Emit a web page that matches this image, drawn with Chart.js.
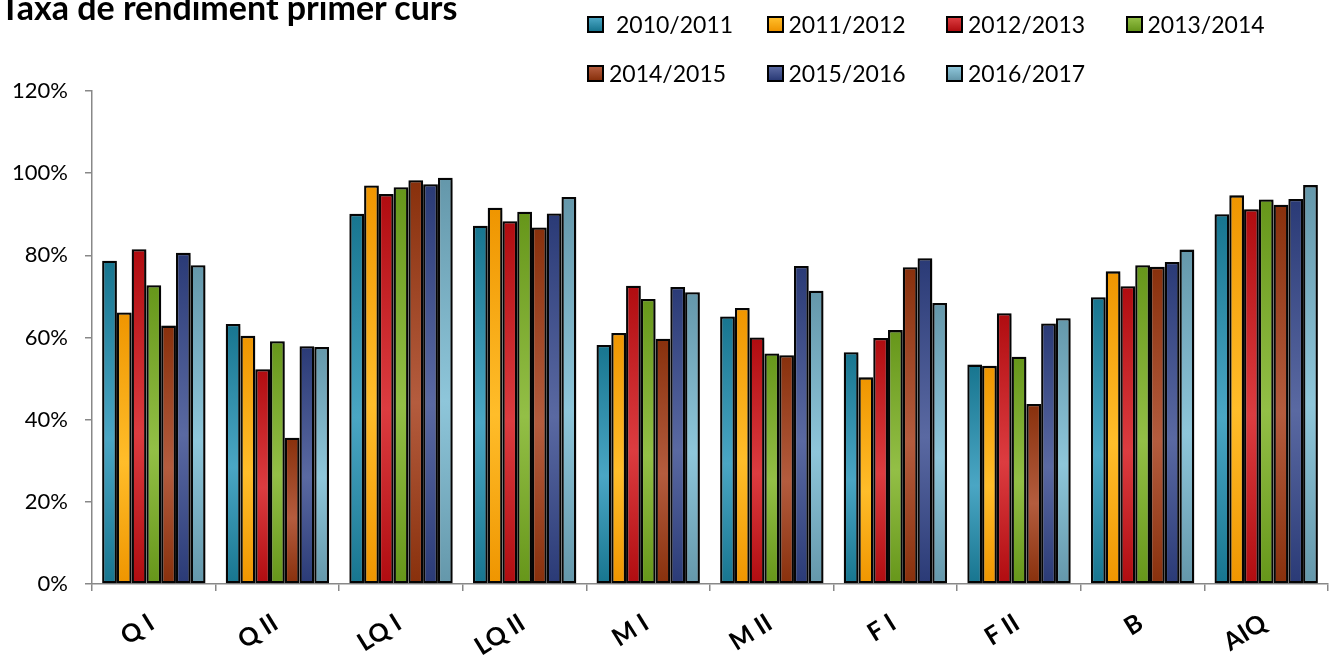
<!DOCTYPE html>
<html lang="ca">
<head>
<meta charset="UTF-8">
<title>Taxa de rendiment primer curs</title>
<script src="https://cdn.jsdelivr.net/npm/chart.js"></script>
<style>
  body { margin: 0; background: #fff; overflow: hidden; }
  #wrap { position: relative; width: 1329px; height: 655px; }
  #title { position: absolute; left: 0; top: -14px; font: bold 34px Lato, sans-serif; line-height: 41px; color: #000; white-space: nowrap; }
  .leg { position: absolute; display: flex; align-items: center; font: 23px Lato, sans-serif; color: #000; white-space: nowrap; }
  .leg span.box { width: 13px; height: 13px; border: 2px solid #000; display: inline-block; }
</style>
</head>
<body>
<div id="wrap">
  <canvas id="chart" width="1329" height="655"></canvas>
  <div id="title">Taxa de rendiment primer curs</div>
  <div id="legend"></div>
</div>

<script>
// categories (titulacions) and academic years
const categories = ['Q I', 'Q II', 'LQ I', 'LQ II', 'M I', 'M II', 'F I', 'F II', 'B', 'AIQ'];
const years = ['2010/2011', '2011/2012', '2012/2013', '2013/2014', '2014/2015', '2015/2016', '2016/2017'];

// rendiment (%) per year, one value per category
const y2010 = [78.7, 63.3, 90.1, 87.2, 58.2, 65.1, 56.4, 53.4, 69.8, 90.0];
const y2011 = [66.1, 60.4, 97.0, 91.6, 61.1, 67.2, 50.3, 53.1, 76.1, 94.6];
const y2012 = [81.5, 52.3, 94.9, 88.3, 72.6, 60.0, 59.9, 65.9, 72.5, 91.2];
const y2013 = [72.7, 59.1, 96.6, 90.6, 69.4, 56.1, 61.8, 55.3, 77.6, 93.6];
const y2014 = [62.9, 35.6, 98.3, 86.8, 59.7, 55.7, 77.1, 43.8, 77.2, 92.3];
const y2015 = [80.6, 57.9, 97.3, 90.2, 72.3, 77.4, 79.3, 63.4, 78.4, 93.7];
const y2016 = [77.6, 57.7, 98.9, 94.2, 71.0, 71.4, 68.4, 64.7, 81.4, 97.1];

const yTicks = [0, 20, 40, 60, 80, 100, 120];

// [dark, light] per series
const colors = [
  ['#17758f', '#4aa6c4'],
  ['#ef9500', '#ffbd2a'],
  ['#b00c10', '#dc3c40'],
  ['#66961a', '#93bf46'],
  ['#88300c', '#b45c3e'],
  ['#2a3a76', '#5a69a2'],
  ['#6497aa', '#8ec6da']
];

const values = [y2010, y2011, y2012, y2013, y2014, y2015, y2016];

function barFill(i) {
  return function (ctx) {
    const chart = ctx.chart;
    if (!chart.chartArea || ctx.raw == null) return colors[i][1];
    const ys = chart.scales.y;
    const top = ys.getPixelForValue(ctx.raw);
    const bot = ys.getPixelForValue(0);
    const g = chart.ctx.createLinearGradient(0, top, 0, bot);
    g.addColorStop(0, colors[i][0]);
    g.addColorStop(0.55, colors[i][1]);
    g.addColorStop(1, colors[i][0]);
    return g;
  };
}

const datasets = years.map((name, i) => ({
  label: name,
  data: values[i],
  backgroundColor: barFill(i),
  borderColor: '#050505',
  borderWidth: 2.3,
  borderSkipped: false,
  barPercentage: 1.0,
  categoryPercentage: 0.836
}));

const shadow = {
  id: 'shadow',
  beforeDatasetsDraw(chart) {
    const c = chart.ctx;
    c.save();
    c.shadowColor = 'rgba(0,0,0,0.35)';
    c.shadowBlur = 5;
    c.shadowOffsetX = 2;
    c.shadowOffsetY = 1;
  },
  afterDatasetsDraw(chart) {
    chart.ctx.restore();
  }
};

new Chart('chart', {
  type: 'bar',
  data: { labels: categories, datasets: datasets },
  plugins: [shadow],
  options: {
    responsive: false,
    animation: false,
    layout: { padding: { top: 91, right: 1, left: 0, bottom: 0 } },
    plugins: {
      legend: { display: false },
      title: { display: false },
      tooltip: { enabled: false }
    },
    scales: {
      x: {
        grid: { display: true, drawOnChartArea: false, drawTicks: true, tickLength: 7, color: '#888', lineWidth: 1.5 },
        border: { color: '#888', width: 1.5 },
        ticks: {
          color: '#000',
          font: { family: 'Lato', size: 25, weight: 'bold' },
          minRotation: 32,
          maxRotation: 32,
          padding: 17,
          labelOffset: -2
        },
        afterFit: (s) => { s.height = 71; }
      },
      y: {
        min: 0,
        max: 120,
        afterBuildTicks: (s) => { s.ticks = yTicks.map(v => ({ value: v })); },
        grid: { display: true, drawOnChartArea: false, drawTicks: true, tickLength: 7, color: '#888', lineWidth: 1.5 },
        border: { color: '#888', width: 1.5 },
        ticks: {
          color: '#000',
          font: { family: 'Lato', size: 22 },
          padding: 17,
          callback: (v) => v + '%'
        },
        afterFit: (s) => { s.width = 92; }
      }
    }
  }
});

// legend (two rows, like the original)
const legend = document.getElementById('legend');
years.forEach((name, i) => {
  const item = document.createElement('div');
  item.className = 'leg';
  item.style.left = (587 + (i % 4) * 179.5) + 'px';
  item.style.top = (i < 4 ? 10 : 59) + 'px';
  const box = document.createElement('span');
  box.className = 'box';
  box.style.background = 'linear-gradient(' + colors[i][1] + ',' + colors[i][0] + ')';
  const txt = document.createElement('span');
  txt.textContent = name;
  txt.style.marginLeft = (i === 0 ? 12 : 5) + 'px';
  item.appendChild(box);
  item.appendChild(txt);
  legend.appendChild(item);
});
</script>
</body>
</html>
